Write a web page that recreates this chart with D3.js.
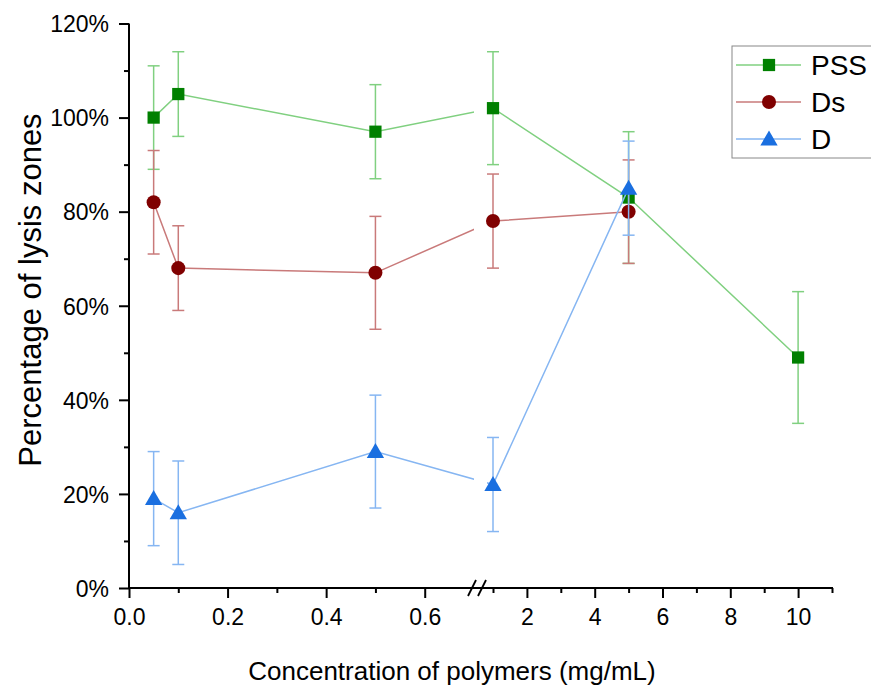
<!DOCTYPE html>
<html>
<head>
<meta charset="utf-8">
<script src="https://cdn.jsdelivr.net/npm/d3@7"></script>
<style>
  body { margin: 0; background: #fff; }
  svg text { font-family: "Liberation Sans", Arial, sans-serif; }
</style>
</head>
<body>
<div id="chart"></div>
<script>
// concentrations (mg/mL)
const conc = [0.05, 0.1, 0.5, 1, 5, 10];

// percentage of lysis zones and error (+/-)
const pssValues = [100, 105, 97, 102, 83, 49];
const pssErrors = [11, 9, 10, 12, 14, 14];
const dsValues = [82, 68, 67, 78, 80];
const dsErrors = [11, 9, 12, 10, 11];
const dValues = [19, 16, 29, 22, 85];
const dErrors = [10, 11, 12, 10, 10];

const yTicks = [0, 20, 40, 60, 80, 100, 120];
const xTicksLeft = [0, 0.2, 0.4, 0.6];
const xTicksRight = [2, 4, 6, 8, 10];

const width = 871, height = 688;

const svg = d3.select('#chart').append('svg')
    .attr('width', width)
    .attr('height', height);

// broken x axis: two linear pieces
const xLeft = d3.scaleLinear().domain([0, 0.7]).range([129, 474]);
const xRight = d3.scaleLinear().domain([1, 11]).range([493, 832]);
const x = v => v <= 0.7 ? xLeft(v) : xRight(v);
const y = d3.scaleLinear().domain([0, 120]).range([588, 23.5]);

// clip so the connecting lines leave a gap at the break
const defs = svg.append('defs');
const clip = defs.append('clipPath').attr('id', 'brk');
clip.append('rect').attr('x', 0).attr('y', 0).attr('width', 474).attr('height', height);
clip.append('rect').attr('x', 487).attr('y', 0).attr('width', width - 487).attr('height', height);

// ---- axes ----
const axisColor = '#000';

// y axis
const yAxis = svg.append('g').attr('transform', 'translate(129,0)');
yAxis.call(d3.axisLeft(y).tickValues(yTicks).tickSize(10).tickFormat(d => d + '%'));
yAxis.append('g').call(d3.axisLeft(y).tickValues([10, 30, 50, 70, 90, 110]).tickSize(5).tickFormat(''));
yAxis.selectAll('.domain').remove();
yAxis.append('line').attr('x1', 0).attr('x2', 0).attr('y1', y(0) + 1).attr('y2', y(120))
    .attr('stroke', axisColor).attr('stroke-width', 2);
yAxis.selectAll('.tick line').attr('stroke', axisColor).attr('stroke-width', 2);
yAxis.selectAll('.tick text').attr('font-size', '23px').attr('fill', '#000').attr('x', -20).attr('dy', '0.36em');

// x axis (left piece)
const xAxisL = svg.append('g').attr('transform', 'translate(0,588)');
xAxisL.call(d3.axisBottom(xLeft).tickValues(xTicksLeft).tickSize(10).tickFormat(d3.format('.1f')));
xAxisL.append('g').call(d3.axisBottom(xLeft).tickValues([0.1, 0.3, 0.5]).tickSize(5).tickFormat(''));
// x axis (right piece)
const xAxisR = svg.append('g').attr('transform', 'translate(0,588)');
xAxisR.call(d3.axisBottom(xRight).tickValues(xTicksRight).tickSize(10).tickFormat(d3.format('d')));
xAxisR.append('g').call(d3.axisBottom(xRight).tickValues([1, 3, 5, 7, 9, 11]).tickSize(5).tickFormat(''));
[xAxisL, xAxisR].forEach(g => {
    g.selectAll('.domain').remove();
    g.selectAll('.tick line').attr('stroke', axisColor).attr('stroke-width', 2);
    g.selectAll('.tick text').attr('font-size', '23px').attr('fill', '#000').attr('y', 21).attr('dy', '0.71em');
});
svg.append('line').attr('x1', 128).attr('x2', 833).attr('y1', 588).attr('y2', 588)
    .attr('stroke', axisColor).attr('stroke-width', 2);

// break marks
svg.append('rect').attr('x', 470).attr('y', 584).attr('width', 16).attr('height', 3).attr('fill', '#fff');
[470, 480].forEach(bx => {
    svg.append('line')
        .attr('x1', bx - 2).attr('y1', 596).attr('x2', bx + 6).attr('y2', 580)
        .attr('stroke', '#000').attr('stroke-width', 1.8);
});

// axis titles
svg.append('text')
    .attr('x', 452).attr('y', 680)
    .attr('text-anchor', 'middle')
    .attr('font-size', '26px')
    .text('Concentration of polymers (mg/mL)');

svg.append('text')
    .attr('transform', 'translate(41,290) rotate(-90)')
    .attr('text-anchor', 'middle')
    .attr('font-size', '31px')
    .text('Percentage of lysis zones');

// ---- series ----
const series = [
    { name: 'PSS', values: pssValues, errors: pssErrors, line: '#80d080', mark: '#008000', shape: d3.symbolSquare, size: 150 },
    { name: 'Ds', values: dsValues, errors: dsErrors, line: '#c97a7a', mark: '#800000', shape: d3.symbolCircle, size: 155 },
    { name: 'D', values: dValues, errors: dErrors, line: '#86b6f2', mark: '#1a6fe0', shape: d3.symbolTriangle, size: 130 }
];

series.forEach(s => {
    const pts = s.values.map((v, i) => ({ x: conc[i], v: v, e: s.errors[i] }));
    const g = svg.append('g');

    g.append('path')
        .datum(pts)
        .attr('clip-path', 'url(#brk)')
        .attr('fill', 'none')
        .attr('stroke', s.line)
        .attr('stroke-width', 1.5)
        .attr('d', d3.line().x(d => x(d.x)).y(d => y(d.v)));

    // error bars
    const eb = g.selectAll('.eb').data(pts).enter().append('g')
        .attr('stroke', s.line).attr('stroke-width', 1.5);
    eb.append('line')
        .attr('x1', d => x(d.x)).attr('x2', d => x(d.x))
        .attr('y1', d => y(d.v + d.e)).attr('y2', d => y(d.v - d.e));
    eb.append('line')
        .attr('x1', d => x(d.x) - 6).attr('x2', d => x(d.x) + 6)
        .attr('y1', d => y(d.v + d.e)).attr('y2', d => y(d.v + d.e));
    eb.append('line')
        .attr('x1', d => x(d.x) - 6).attr('x2', d => x(d.x) + 6)
        .attr('y1', d => y(d.v - d.e)).attr('y2', d => y(d.v - d.e));

    g.selectAll('.mk').data(pts).enter().append('path')
        .attr('transform', d => `translate(${x(d.x)},${y(d.v) + (s.shape === d3.symbolTriangle ? 1.5 : 0)})`)
        .attr('d', d3.symbol().type(s.shape).size(s.size))
        .attr('fill', s.mark);
});

// ---- legend ----
const legend = svg.append('g');
legend.append('rect')
    .attr('x', 732).attr('y', 46).attr('width', 160).attr('height', 112)
    .attr('fill', '#fff').attr('stroke', '#888').attr('stroke-width', 1);
series.forEach((s, i) => {
    const ly = 65 + i * 37;
    legend.append('line').attr('x1', 736).attr('x2', 801).attr('y1', ly).attr('y2', ly)
        .attr('stroke', s.line).attr('stroke-width', 1.5);
    legend.append('path')
        .attr('transform', `translate(769,${ly + (s.shape === d3.symbolTriangle ? 1.5 : 0)})`)
        .attr('d', d3.symbol().type(s.shape).size(s.size))
        .attr('fill', s.mark);
    legend.append('text')
        .attr('x', 811).attr('y', ly).attr('dy', '0.36em')
        .attr('font-size', '28px')
        .text(s.name);
});
</script>
</body>
</html>
